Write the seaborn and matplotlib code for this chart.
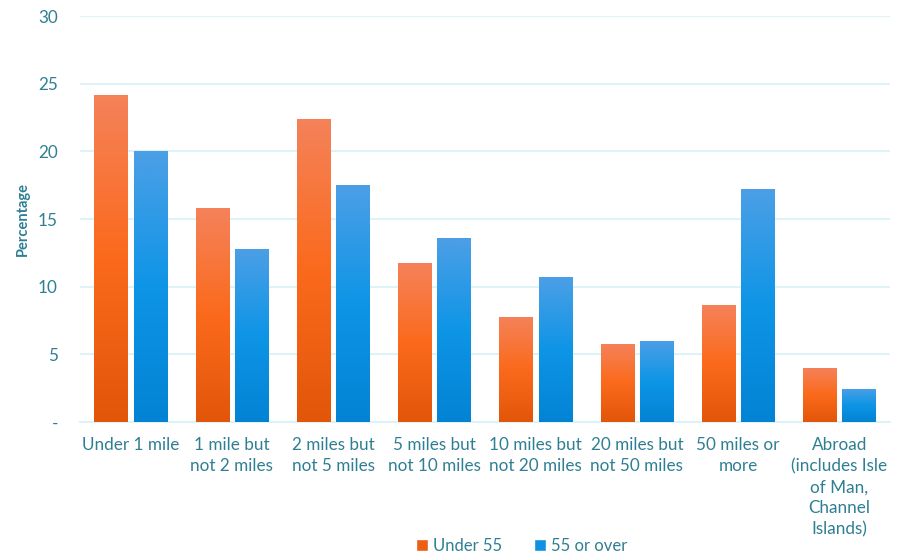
import matplotlib
matplotlib.use("Agg")
import matplotlib.pyplot as plt
import numpy as np
import pandas as pd
import seaborn as sns
from matplotlib.colors import LinearSegmentedColormap
from matplotlib.patches import Patch

categories = [
    "Under 1 mile",
    "1 mile but\nnot 2 miles",
    "2 miles but\nnot 5 miles",
    "5 miles but\nnot 10 miles",
    "10 miles but\nnot 20 miles",
    "20 miles but\nnot 50 miles",
    "50 miles or\nmore",
    "Abroad\n(includes Isle\nof Man,\nChannel\nIslands)",
]
under_55 = [24.2, 15.8, 22.4, 11.75, 7.8, 5.8, 8.65, 4.0]
over_55 = [20.0, 12.8, 17.5, 13.6, 10.7, 6.0, 17.2, 2.45]
series = ["Under 55", "55 or over"]
y_ticks = [0, 5, 10, 15, 20, 25, 30]
y_tick_labels = ["-", "5", "10", "15", "20", "25", "30"]

TEXT = "#2E7F93"
GRID = "#DDF3F8"
gradients = {
    "Under 55": ["#E2560A", "#FB6A1C", "#F5825A"],
    "55 or over": ["#0383D4", "#0E95E6", "#4C9FE6"],
}
legend_colors = {"Under 55": "#EC5E12", "55 or over": "#1090E2"}

df = pd.DataFrame({
    "category": categories * 2,
    "value": under_55 + over_55,
    "series": [series[0]] * len(categories) + [series[1]] * len(categories),
})

sns.set_theme(style="white")
plt.rcParams["font.family"] = ["Lato", "DejaVu Sans"]

fig = plt.figure(figsize=(9.01, 5.59), dpi=100)
ax = fig.add_axes([0.0888, 0.245, 0.8990, 0.726])

sns.barplot(data=df, x="category", y="value", hue="series", order=categories,
            hue_order=series, width=0.714, palette=legend_colors, ax=ax,
            legend=False, errorbar=None, saturation=1)

ax.set_ylim(0, 30)
ax.set_xlim(-0.5, len(categories) - 0.5)

# shrink bars on the inner side to leave a small gap, then paint gradients
gap = 0.03
for container, name in zip(ax.containers, series):
    cmap = LinearSegmentedColormap.from_list(name, gradients[name])
    for bar in container:
        x0, w, h = bar.get_x(), bar.get_width(), bar.get_height()
        if name == series[0]:
            bar.set_width(w - gap)
        else:
            bar.set_x(x0 + gap)
            bar.set_width(w - gap)
        bar.set_facecolor("none")
        bar.set_edgecolor("none")
        bx, bw = bar.get_x(), bar.get_width()
        grad = np.linspace(0, 1, 256).reshape(-1, 1)
        im = ax.imshow(grad, cmap=cmap, origin="lower", aspect="auto",
                       extent=[bx, bx + bw, 0, h], zorder=3)
        im.set_clip_path(bar)

ax.set_yticks(y_ticks)
ax.set_yticklabels(y_tick_labels)
ax.yaxis.grid(True, color=GRID, linewidth=1.5)
ax.set_axisbelow(True)
for s in ["top", "right", "left"]:
    ax.spines[s].set_visible(False)
ax.spines["bottom"].set_color(GRID)
ax.spines["bottom"].set_linewidth(1.5)

ax.tick_params(axis="both", length=0, colors=TEXT, labelsize=12.3)
ax.tick_params(axis="y", pad=16)
ax.tick_params(axis="x", pad=11)
for lbl in ax.get_xticklabels():
    lbl.set_linespacing(1.38)
ax.set_xlabel("")
ax.set_ylabel("Percentage", color=TEXT, fontsize=10.5, fontweight="bold", labelpad=6)

handles = [Patch(facecolor=legend_colors[s], label=s) for s in series]
fig.legend(handles=handles, loc="lower center", bbox_to_anchor=(0.579, -0.017), ncol=2,
           frameon=False, fontsize=12, labelcolor=TEXT, handlelength=0.7,
           handleheight=0.7, handletextpad=0.3, columnspacing=1.9)

fig.savefig("out.png", dpi=100)
